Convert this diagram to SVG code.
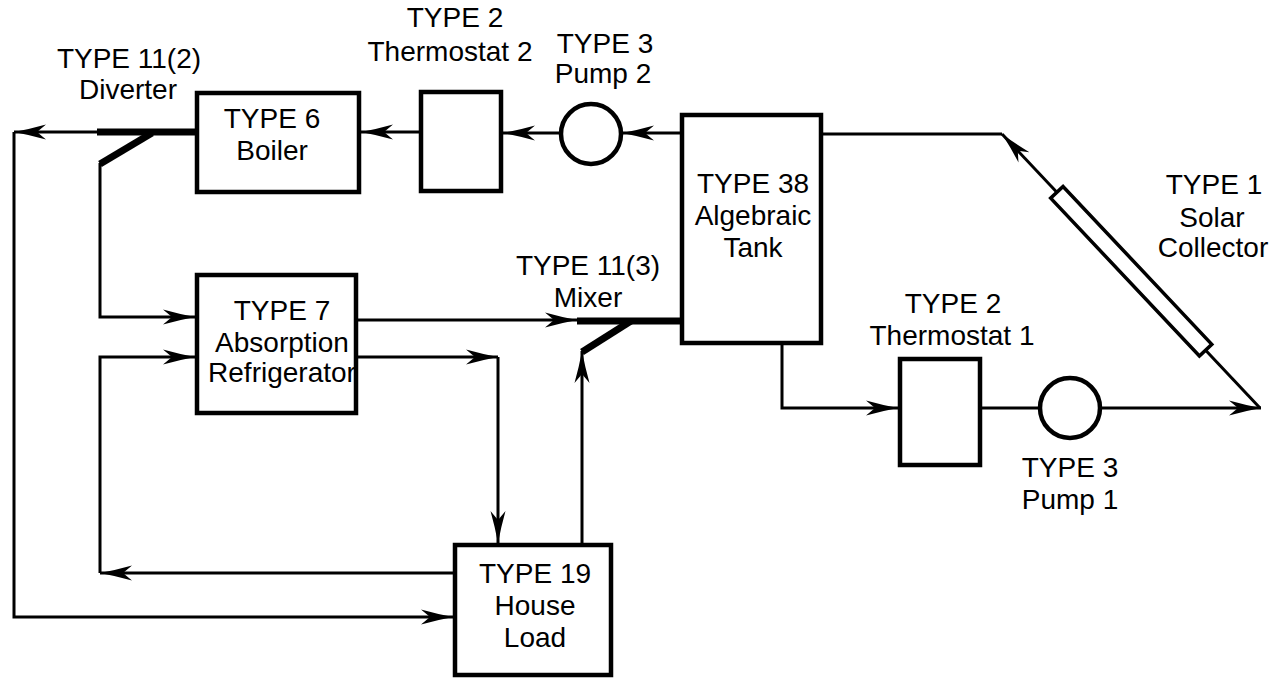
<svg xmlns="http://www.w3.org/2000/svg" width="1287" height="681" viewBox="0 0 1287 681">
<style>
.box{fill:#fff;stroke:#000;stroke-width:4.5}
.ln{fill:none;stroke:#000;stroke-width:3;stroke-linejoin:miter}
.thick{fill:none;stroke:#000;stroke-width:7;stroke-linecap:butt}
.arr{marker-end:url(#ah)}
text{font-family:"Liberation Sans",Arial,Helvetica,sans-serif;font-size:28px;fill:#000;text-anchor:middle}
</style>
<defs>
<marker id="ah" viewBox="-34 -9 36 18" refX="0" refY="0" markerWidth="36" markerHeight="18" markerUnits="userSpaceOnUse" orient="auto">
<path d="M0,0 Q-16,-3 -32,-7.5 L-23,0 L-32,7.5 Q-16,3 0,0 Z" fill="#000"/>
</marker>
</defs>
<rect width="1287" height="681" fill="#fff"/>
<g id="connectors">
<path class="ln arr" d="M680,133 L622,133"/>
<path class="ln arr" d="M561,133 L503,133"/>
<path class="ln arr" d="M419,132 L361,132"/>
<path class="ln arr" d="M97,132 L14,132"/>
<path class="ln arr" d="M14,132 L14,617 L453,617"/>
<path class="ln arr" d="M100,163 L100,317 L195,317"/>
<path class="ln arr" d="M358,320 L577,320"/>
<path class="ln arr" d="M358,357 L498,357"/>
<path class="ln arr" d="M498,357 L498,543"/>
<path class="ln arr" d="M582,543 L582,351"/>
<path class="ln arr" d="M453,573 L100,573"/>
<path class="ln arr" d="M100,573 L100,357 L195,357"/>
<path class="ln" d="M823,134 L1002,134"/>
<path class="ln arr" d="M1260,408 L1002,134"/>
<path class="ln arr" d="M782,345 L782,408 L898,408"/>
<path class="ln" d="M982,408 L1040,408"/>
<path class="ln arr" d="M1101,408 L1261,408"/>
</g>
<g id="diverter">
<path class="thick" d="M195,132 L97,132"/>
<path class="thick" d="M152,133 L100,164"/>
<text x="129" y="68">TYPE 11(2)</text>
<text x="128" y="99">Diverter</text>
</g>
<g id="boiler">
<rect class="box" x="197" y="93" width="162" height="99"/>
<text x="272" y="128">TYPE 6</text>
<text x="272" y="160">Boiler</text>
</g>
<g id="thermostat2">
<rect class="box" x="421" y="92" width="80" height="99"/>
<text x="455" y="27">TYPE 2</text>
<text x="450" y="61">Thermostat 2</text>
</g>
<g id="pump2">
<circle class="box" cx="591" cy="134" r="30"/>
<text x="605" y="53">TYPE 3</text>
<text x="603" y="83">Pump 2</text>
</g>
<g id="tank">
<rect class="box" x="682" y="115" width="139" height="228"/>
<text x="753" y="193">TYPE 38</text>
<text x="753" y="225">Algebraic</text>
<text x="753" y="257">Tank</text>
</g>
<g id="mixer">
<path class="thick" d="M577,321 L680,321"/>
<path class="thick" d="M631,321 L582,352"/>
<text x="588" y="275">TYPE 11(3)</text>
<text x="588" y="307">Mixer</text>
</g>
<g id="refrigerator">
<rect class="box" x="197" y="275" width="159" height="138"/>
<text x="282" y="320">TYPE 7</text>
<text x="282" y="352">Absorption</text>
<text x="282" y="382">Refrigerator</text>
</g>
<g id="houseload">
<rect class="box" x="455" y="545" width="156" height="130"/>
<text x="535" y="583">TYPE 19</text>
<text x="535" y="615">House</text>
<text x="535" y="647">Load</text>
</g>
<g id="thermostat1">
<rect class="box" x="900" y="359" width="80" height="106"/>
<text x="953" y="313">TYPE 2</text>
<text x="952" y="345">Thermostat 1</text>
</g>
<g id="pump1">
<circle class="box" cx="1070" cy="408" r="30"/>
<text x="1070" y="477">TYPE 3</text>
<text x="1070" y="509">Pump 1</text>
</g>
<g id="collector">
<rect x="80" y="-8.5" width="217" height="17" fill="#fff" stroke="#000" stroke-width="3.5" transform="translate(1002,134) rotate(46.72)"/>
<text x="1214" y="194">TYPE 1</text>
<text x="1212" y="227">Solar</text>
<text x="1213" y="257">Collector</text>
</g>
</svg>
